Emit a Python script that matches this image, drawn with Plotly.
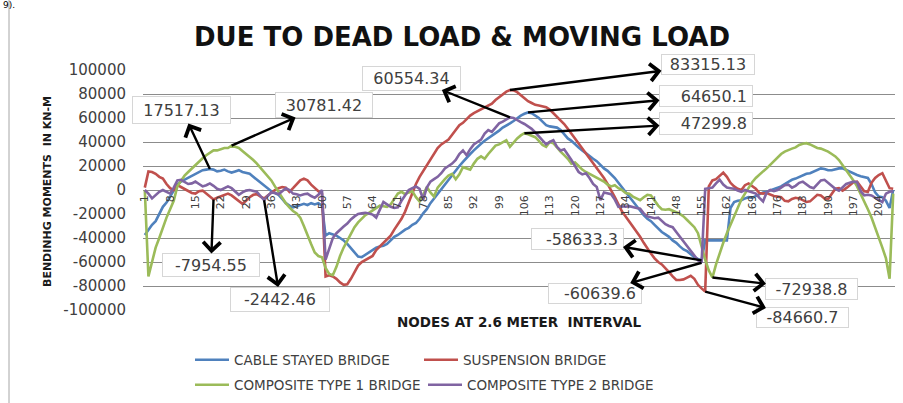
import plotly.graph_objects as go

# ---------------- data ----------------
nodes = list(range(1, 209))

cable_stayed = [
    -37500, -33000, -29000, -26000, -20000, -14000, -10500, -5500, 0, 4500,
    7000, 8500, 10500, 12000, 13500, 15000, 16500, 17000, 17517, 17000,
    15500, 16000, 17000, 15500, 14500, 15500, 16500, 15000, 14000, 13500,
    11000, 8500, 6000, 3500, 1500, -1000, -2500, -4000, -7500, -11000,
    -13000, -14500, -13500, -12500, -11500, -12500, -11000, -12000, -11000, -13000,
    -38000, -36000, -37000, -38000, -40000, -42000, -45000, -48500, -52000, -55500,
    -56000, -54000, -52000, -50000, -48000, -47000, -46500, -45000, -42000, -39000,
    -37500, -35000, -33000, -31500, -29000, -27500, -24000, -19500, -16000, -11000,
    -7000, -3000, 1000, 5000, 9000, 13000, 16500, 20000, 23500, 27000,
    30000, 33000, 36000, 38500, 41000, 43000, 45500, 47500, 49500, 52000,
    53500, 55500, 57500, 60000, 62000, 63500, 64650, 64000, 62000, 60000,
    57000, 54000, 53000, 52500, 52000, 50000, 46000, 43000, 41000, 38000,
    35500, 33000, 30500, 28000, 26000, 24000, 21000, 18000, 16000, 13000,
    10000, 6000, 2000, -2000, -6000, -10000, -14000, -17000, -21000, -24000,
    -26000, -29000, -32000, -35000, -37000, -39000, -42000, -44000, -47000, -49500,
    -51000, -53500, -56000, -57500, -58633, -42000, -42000, -42000, -42000, -42000,
    -42000, -42000, -15000, -10000, -9000, -8500, -7000, -6000, -6500, -5000,
    -3500, -2000, -1500, -500, 1000, 1500, 3000, 5000, 7000, 8500,
    9500, 11000, 12500, 13500, 14000, 15500, 17000, 18000, 17500, 16500,
    16500, 17500, 18000, 18000, 16500, 15000, 14000, 12500, 11500, 10500,
    10000, 5000, -2000, -5500, -6000, -9000, -15000, 0,
]

suspension = [
    2000, 15500, 15000, 13500, 11000, 9500, 5000, 1500, 0, 4000,
    2500, 1000, -500, -2500, -3000, -1000, -500, -3000, -5000, -7954,
    -6500, -5500, -4000, -3000, -4500, -7000, -9500, -11500, -9000, -6000,
    -4000, -3500, -5500, -7000, -4500, -2000, 0, 1500, 2500, 2000,
    -1500, 1500, 5000, 8000, 9500, 8000, 4500, 1500, -1000, -3000,
    -72000, -71000, -72000, -74000, -77000, -79000, -78500, -74000, -69000, -63000,
    -60000, -58500, -57000, -55000, -50000, -47000, -44000, -41000, -38000, -33000,
    -29000, -24000, -18000, -10000, -2000, 5000, 11000, 16000, 20000, 25000,
    30000, 35000, 38000, 40000, 42000, 46000, 50000, 54000, 56000, 59000,
    62000, 64000, 65500, 67000, 69000, 70000, 72000, 75000, 77500, 80000,
    82000, 83315, 83000, 81500, 79000, 76000, 74000, 72500, 71000, 70500,
    70000, 69000, 67000, 64000, 61000, 58000, 55000, 51000, 47000, 43000,
    39000, 35000, 31000, 27000, 23000, 18000, 14000, 10000, 5000, 0,
    -6000, -12000, -18000, -22000, -26000, -30000, -34000, -39000, -44000, -49000,
    -53000, -57000, -60000, -62000, -65000, -68500, -72000, -75000, -75000, -74500,
    -73000, -71500, -74000, -79000, -82000, -84661, 3000, 8000, 9000, 12000,
    14500, 11000, 6000, 3000, 1000, 0, 4000, 5500, 3000, 1000,
    -2500, -3000, -2500, -4000, -5000, -5500, -6000, -9000, -9500, -7500,
    -6500, -7000, -8500, -10000, -9500, -7000, -4000, -4500, -7000, -7500,
    -3000, 1000, 1500, -500, 1500, 4000, 6500, 7000, 3000, -1000,
    -1500, 6000, 10000, 12500, 14000, 7000, 1500, 1000,
]

composite_type1 = [
    0, -72000, -60000, -48000, -40000, -31000, -23000, -16000, -9000, 3000,
    8000, 12000, 15000, 18000, 21000, 23500, 26500, 29000, 31000, 33000,
    33000, 34000, 35000, 35000, 37000, 36000, 35000, 32500, 30000, 28000,
    25000, 22000, 18500, 15000, 12000, 8000, 3000, -2000, -7000, -11000,
    -14500, -17500, -19500, -23000, -30000, -38000, -45000, -52000, -55000, -56000,
    -65000, -70000, -71000, -64000, -55000, -48000, -42000, -36000, -31000, -27000,
    -24000, -21000, -19000, -17000, -15000, -13000, -13500, -14000, -12000, -8000,
    -3000, -1500, -3500, -2000, -1000, -6000, -9500, -4000, 2500, -2000,
    -5500, 2000, 6000, 9000, 12000, 13500, 9000, 13000, 19000, 18000,
    17000, 22000, 26000, 28000, 26000, 30000, 34000, 37000, 38000, 40000,
    41500, 36000, 39500, 43000, 45500, 47300, 46500, 45000, 44000, 41000,
    37500, 36000, 40000, 39000, 35000, 32000, 29000, 26000, 22000, 23000,
    20000, 17000, 15000, 13500, 12000, 10000, 8500, 7000, 4500, 3000,
    4000, 1500, 0, -2500, -3000, -5500, -7000, -8500, -6000, -4000,
    -4500, -9000, -13000, -16000, -16500, -16000, -17000, -18500, -20000, -22000,
    -25000, -28000, -31000, -36000, -48000, -58000, -67000, -72939, -62000, -52000,
    -44000, -36000, -29000, -22000, -14000, -8000, -3000, 2000, 6500, 10000,
    13000, 15500, 18000, 21000, 24000, 27000, 30000, 32000, 33500, 34500,
    35500, 37500, 38500, 39000, 38000, 36500, 35000, 34500, 33500, 32000,
    30000, 28000, 25000, 21000, 17000, 12500, 8000, 3000, -3000, -9500,
    -16000, -23000, -31000, -40000, -48000, -57000, -74000, -3000,
]

composite_type2 = [
    0, -3000, -7000, -4000, -1500, 0, -1500, -3000, 2000, 8000,
    8500, 7000, 5000, 5500, 7000, 5000, 3000, 4000, 5500, 3500,
    1000, 0, 1500, 3000, 1500, -1500, -4000, -2000, -500, 0,
    -1000, -1500, -5000, -8500, -5000, -2000, -2500, -3500, -1000, 1500,
    0, -3000, -3500, -4500, -3500, -3000, -5000, -6500, -4000, 0,
    -58000, -48000, -40000, -36000, -33000, -30500, -28000, -24500, -22000, -20000,
    -19500, -19000, -19500, -20500, -23000, -16000, -10000, -12000, -14000, -15000,
    -14500, -9000, -4000, 0, 1500, 3000, 1000, -8000, 2000, 7000,
    9000, 11000, 14000, 18000, 20000, 22000, 25000, 30000, 33000, 29000,
    34000, 38000, 40000, 42000, 47000, 50000, 48500, 52000, 55500, 57000,
    59000, 60554, 60000, 58000, 56500, 55000, 53000, 51000, 48000, 44500,
    41500, 38000, 40000, 41500, 36000, 33000, 34000, 30000, 25000, 20000,
    15000, 13000, 14000, 10000, 5000, 2500, -8500, -2000, -2500, -3500,
    -8000, -14000, -13500, -14000, -13500, -14500, -15000, -15500, -19500, -22000,
    -22500, -23500, -23000, -26000, -28500, -30000, -31000, -35000, -39000, -43000,
    -47000, -51000, -55000, -58500, -60640, 1000, 1500, 2000, 5500, 8500,
    4500, 2000, 1500, 1000, -500, -1500, 0, -1000, -1500, -3000,
    -6500, -9500, -2000, 0, -1000, 0, 2000, 4000, 4500, 2000,
    3500, 6000, 7000, 5000, 2500, 1500, 5000, 8000, 8500, 6000,
    3000, 1000, -500, 2500, 5000, 6000, 7000, 6500, -1000, -4500,
    -4000, -4500, -6500, -8000, -10000, -3000, -1500, -1000,
]

series_names = ["CABLE STAYED BRIDGE", "SUSPENSION BRIDGE",
                "COMPOSITE TYPE 1 BRIDGE", "COMPOSITE TYPE 2 BRIDGE"]
x_tick_values = list(range(1, 205, 7))
y_tick_values = list(range(-100000, 100001, 20000))

# callout labels: (text, series index, node)
callout_texts = ["17517.13", "30781.42", "60554.34", "83315.13", "64650.1", "47299.8",
                 "-7954.55", "-2442.46", "-58633.3", "-60639.6", "-72938.8", "-84660.7"]
callout_series = [0, 2, 3, 1, 0, 2, 1, 3, 0, 3, 2, 1]
callout_nodes = [19, 25, 102, 102, 107, 106, 20, 34, 155, 155, 158, 156]

# ---------------- layout geometry ----------------
W, H = 903, 403
PL, PR, PT, PB = 143, 895, 70, 310
FONT = "DejaVu Sans"
colors = ["#4F81BD", "#C0504D", "#9BBB59", "#8064A2"]
all_series = [cable_stayed, suspension, composite_type1, composite_type2]


def px(n):
    return PL + (n - 0.5) * (PR - PL) / 208.0


def py(v):
    return PT + (100000 - v) / 200000.0 * (PB - PT)


def paper_x(xp):
    return (xp - PL) / (PR - PL)


def paper_y(yp):
    return (PB - yp) / (PB - PT)


fig = go.Figure()
legend_ids = ["legend", "legend2", "legend3", "legend4"]
for i, (name, vals) in enumerate(zip(series_names, all_series)):
    fig.add_trace(go.Scatter(
        x=nodes, y=vals, mode="lines", name=name,
        line=dict(color=colors[i], width=2.6),
        legend=legend_ids[i], hoverinfo="skip",
    ))

# callout box placement (pixel centres and sizes)
box_cx = [182, 324, 412, 708, 706, 706, 211, 280, 577, 595, 812, 803]
box_cy = [110, 105, 78, 65, 96, 123, 265, 299, 239, 293, 289, 318]
box_w = [99, 98, 99, 94, 94, 94, 98, 100, 93, 94, 93, 93]
box_h = [28, 26, 25, 21, 22, 23, 24, 25, 22, 21, 22, 21]
box_align = ["center", "center", "center", "center", "right", "right",
             "center", "center", "right", "right", "center", "center"]

annotations = []
for k, txt in enumerate(callout_texts):
    s = callout_series[k]
    n = callout_nodes[k]
    v = all_series[s][n - 1]
    annotations.append(dict(
        x=n, y=v, xref="x", yref="y",
        ax=box_cx[k] - px(n), ay=box_cy[k] - py(v),
        text=txt + ("&nbsp;" if box_align[k] == "right" else ""), showarrow=True,
        align=box_align[k],
        arrowside="start", arrowhead=4, startarrowhead=4,
        arrowsize=1.4, startarrowsize=1.4, arrowwidth=2.4, arrowcolor="#000000",
        bgcolor="#FFFFFF", bordercolor="#D6D6D6", borderwidth=1, borderpad=0,
        width=box_w[k] - 2, height=box_h[k] - 2,
        font=dict(family=FONT, size=16, color="#404040"),
    ))

# axis titles
annotations.append(dict(
    text="<b>NODES AT 2.6 METER  INTERVAL</b>", xref="paper", yref="paper",
    x=paper_x(519), y=paper_y(322), showarrow=False, xanchor="center", yanchor="middle",
    font=dict(family=FONT, size=13.5, color="#1a1a1a"),
))
annotations.append(dict(
    text="<b>BENDINHG MOMENTS  IN KN-M</b>", xref="paper", yref="paper",
    x=paper_x(47), y=paper_y(192), showarrow=False, xanchor="center", yanchor="middle",
    textangle=-90, font=dict(family=FONT, size=11, color="#1a1a1a"),
))
# document text at the very top-left
annotations.append(dict(
    text="9).", xref="paper", yref="paper", x=paper_x(1), y=paper_y(5),
    showarrow=False, xanchor="left", yanchor="middle",
    font=dict(family=FONT, size=9, color="#000000"),
))

legend_pos = [(190, 360), (419, 360), (190, 385), (423, 385)]
legend_layouts = {}
for i, lid in enumerate(legend_ids):
    lx, ly = legend_pos[i]
    legend_layouts[lid] = dict(
        x=paper_x(lx), xanchor="left", y=paper_y(ly), yanchor="middle",
        bgcolor="rgba(0,0,0,0)", borderwidth=0, itemwidth=34,
        font=dict(family=FONT, size=13.5, color="#404040"),
    )

fig.update_layout(
    width=W, height=H,
    margin=dict(l=PL, r=W - PR, t=PT, b=H - PB, pad=0, autoexpand=False),
    paper_bgcolor="#FFFFFF", plot_bgcolor="#FFFFFF",
    showlegend=True,
    title=dict(
        text="<b>DUE TO DEAD LOAD & MOVING LOAD</b>",
        x=462 / W, xref="container", xanchor="center",
        y=1 - 37 / H, yref="container", yanchor="middle",
        font=dict(family=FONT, size=26, color="#111111"),
    ),
    xaxis=dict(
        range=[0.5, 208.5], tickmode="array", tickvals=x_tick_values,
        ticktext=[str(t) for t in x_tick_values], tickangle=-90,
        anchor="free", position=0.5, showgrid=False, zeroline=False,
        showline=False, ticks="", ticklabelstandoff=2,
        tickfont=dict(family=FONT, size=11, color="#404040"),
    ),
    yaxis=dict(
        range=[-100000, 100000], tickmode="array", tickvals=y_tick_values,
        ticktext=[str(t) for t in y_tick_values],
        showgrid=True, gridcolor="#8C8C8C", gridwidth=1.2,
        zeroline=False, showline=False, ticks="", ticklabelstandoff=16,
        tickfont=dict(family=FONT, size=15, color="#404040"),
    ),
    annotations=annotations,
    shapes=[dict(type="line", xref="paper", yref="paper",
                 x0=paper_x(9), x1=paper_x(9), y0=paper_y(0), y1=paper_y(H),
                 line=dict(color="#A6A6A6", width=1))],
    **legend_layouts,
)

fig.write_html("out.html",
               config={"displayModeBar": False},
               post_script="document.body.style.margin='0px';"
                           "document.body.style.overflow='hidden';")
